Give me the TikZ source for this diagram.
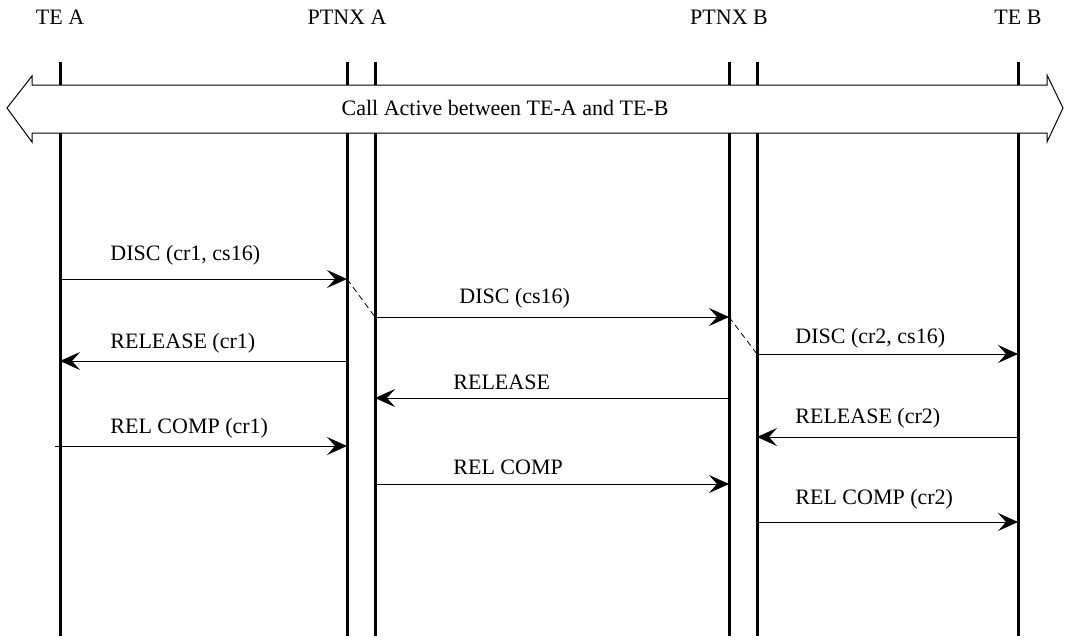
\documentclass[tikz,border=0pt]{standalone}
\usepackage{fontspec}
\setmainfont{Liberation Serif}
\usetikzlibrary{arrows.meta,positioning}

\begin{document}
\begin{tikzpicture}[x=0.5pt, y=-0.5pt, font=\fontsize{11}{13}\selectfont,
  life/.style = {line width=1.5pt},
  msg/.style = {line width=0.5pt, -{Stealth[length=10pt, width=9pt, inset=4pt]}},
  link/.style = {line width=0.4pt, dash pattern=on 3pt off 2pt},
  lbl/.style = {anchor=west, inner sep=0pt},
  head/.style = {inner sep=0pt}]
\useasboundingbox (0,0) rectangle (1065,639);
\node[head] (tea) at (60,17) {TE A};
\node[head] (ptnxa) at (347,17) {PTNX A};
\node[head] (ptnxb) at (729,17) {PTNX B};
\node[head] (teb) at (1018,17) {TE B};
\coordinate (1) at (60,62);
\coordinate (2) at (347,62);
\coordinate (3) at (375,62);
\coordinate (4) at (729,62);
\coordinate (5) at (757,62);
\coordinate (6) at (1018,62);
\draw[life] (1) -- (1 |- 0,636);
\draw[life] (2) -- (2 |- 0,636);
\draw[life] (3) -- (3 |- 0,636);
\draw[life] (4) -- (4 |- 0,636);
\draw[life] (5) -- (5 |- 0,636);
\draw[life] (6) -- (6 |- 0,636);
\draw[line width=0.5pt, fill=white] (7,108) -- (32,76) -- (32,85) -- (1047,85) -- (1047,75)
  -- (1063,108) -- (1047,142) -- (1047,133) -- (32,133) -- (32,142) -- cycle;
\node[head] (call) at (505,108) {Call Active between TE-A and TE-B};
\draw[msg] (1 |- 0,279) -- (2 |- 0,279);
\node[lbl] (m1) at (110,255) {DISC (cr1, cs16)};
\draw[link] (2 |- 0,279) -- (3 |- 0,317);
\draw[msg] (3 |- 0,317) -- (4 |- 0,317);
\node[lbl] (m2) at (459,298) {DISC (cs16)};
\draw[link] (4 |- 0,317) -- (5 |- 0,354);
\draw[msg] (2 |- 0,361) -- (1 |- 0,361);
\node[lbl] (m3) at (110,343) {RELEASE (cr1)};
\draw[msg] (5 |- 0,354) -- (6 |- 0,354);
\node[lbl] (m4) at (795,338) {DISC (cr2, cs16)};
\draw[msg] (4 |- 0,398) -- (3 |- 0,398);
\node[lbl] (m5) at (453,382) {RELEASE};
\draw[msg] (6 |- 0,437) -- (5 |- 0,437);
\node[lbl] (m6) at (795,418) {RELEASE (cr2)};
\draw[msg] (55,446) coordinate (s7) -- (2 |- s7);
\node[lbl] (m7) at (110,428) {REL COMP (cr1)};
\draw[msg] (3 |- 0,484) -- (4 |- 0,484);
\node[lbl] (m8) at (453,467) {REL COMP};
\draw[msg] (5 |- 0,522) -- (6 |- 0,522);
\node[lbl] (m9) at (795,499) {REL COMP (cr2)};
\end{tikzpicture}
\end{document}
